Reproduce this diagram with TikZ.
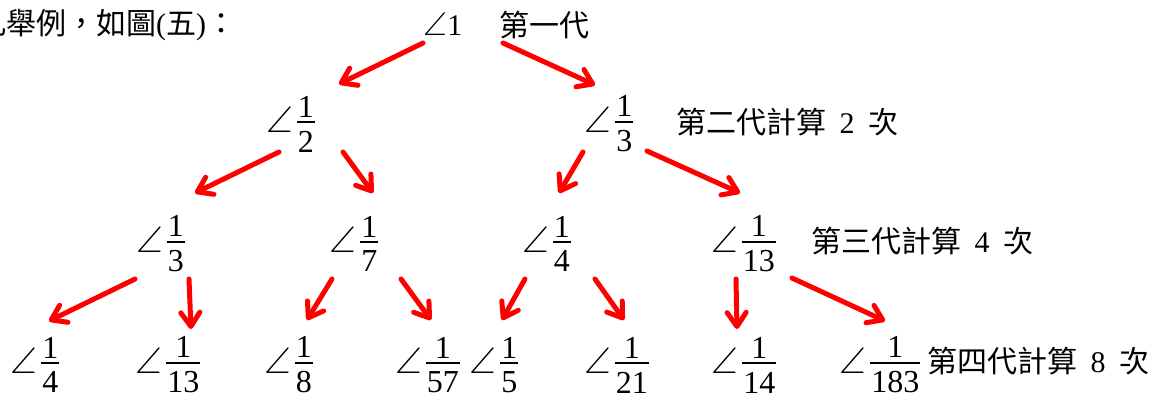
\RequirePackage{fix-cm}
\documentclass[tikz,border=0pt]{standalone}
\usepackage{amsmath,amssymb}
\usepackage{fontspec}
\setmainfont{Liberation Serif}
\newfontfamily\cjk{Noto Sans CJK TC}
\usetikzlibrary{arrows.meta}
% scalable AMS symbol font for a large angle sign
\DeclareFontFamily{U}{msa}{}
\DeclareFontShape{U}{msa}{m}{n}{<-> msam10}{}

% angle sign followed by a stacked fraction
\newcommand\af[2]{{\fontsize{37}{44}\selectfont$\angle$}\kern4pt
  $\vcenter{\offinterlineskip\halign{\hfil\kern1pt##\kern1pt\hfil\cr
    #1\cr\noalign{\kern4pt\hrule height 1.8pt\kern8pt}#2\cr}}$}
% generation label: "第n代計算 k 次"
\newcommand\gen[2]{{\cjk #1}\makebox[1.4em]{#2}{\cjk 次}}

\begin{document}
\begin{tikzpicture}[x=1pt,y=-1pt,
  fr/.style={inner sep=0pt, font=\fontsize{32}{38}\selectfont},
  lbl/.style={anchor=west, inner sep=0pt, font=\fontsize{30}{36}\selectfont},
  arr/.style={draw=red, line width=5pt, line cap=round, line join=round,
    -{Straight Barb[length=14pt,width=19pt,round]}}]
\useasboundingbox (0,0) rectangle (1163,399);

% text line above the tree
\node[lbl] (intro) at (-24,25) {{\cjk 凡舉例，如圖}({\cjk 五}){\cjk ：}};

% root
\node[inner sep=0pt, anchor=base] (n0) at (443,35)
  {{\fontsize{33}{38}\selectfont$\angle$}{\fontsize{30}{36}\selectfont 1}};
\node[lbl] (g1) at (499,25) {\cjk 第一代};

% second generation
\node[fr] (n21) at (290.5,124) {\af{1}{2}};
\node[fr] (n22) at (609,124) {\af{1}{3}};
\node[lbl] (g2) at (676,122) {\gen{第二代計算}{2}};

% third generation
\node[fr] (n31) at (160.5,244) {\af{1}{3}};
\node[fr] (n32) at (354,244) {\af{1}{7}};
\node[fr] (n33) at (546.5,244) {\af{1}{4}};
\node[fr] (n34) at (743.5,244) {\af{1}{13}};
\node[lbl] (g3) at (811,241) {\gen{第三代計算}{4}};

% fourth generation
\node[fr] (n41) at (35,365) {\af{1}{4}};
\node[fr] (n42) at (168,365) {\af{1}{13}};
\node[fr] (n43) at (288.5,365) {\af{1}{8}};
\node[fr] (n44) at (427.5,365) {\af{1}{57}};
\node[fr] (n45) at (494,365) {\af{1}{5}};
\node[fr] (n46) at (616.5,365) {\af{1}{21}};
\node[fr] (n47) at (744,365) {\af{1}{14}};
\node[fr] (n48) at (880,365) {\af{1}{183}};
\node[lbl] (g4) at (927,361) {\gen{第四代計算}{8}};

% arrows from each angle to its two children
\draw[arr] ([shift={(-20,8)}]n0.base) -- ([shift={(48.5,-40)}]n21.center);
\draw[arr] ([shift={(60,8)}]n0.base) -- ([shift={(-14,-39)}]n22.center);

\draw[arr] ([shift={(-11.5,28)}]n21.center) -- ([shift={(34.5,-51)}]n31.center);
\draw[arr] ([shift={(52.5,28)}]n21.center) -- ([shift={(19,-51)}]n32.center);
\draw[arr] ([shift={(-26,28)}]n22.center) -- ([shift={(12.5,-51)}]n33.center);
\draw[arr] ([shift={(38,27)}]n22.center) -- ([shift={(-3.5,-51)}]n34.center);

\draw[arr] ([shift={(-25.5,35)}]n31.center) -- ([shift={(14,-44)}]n41.center);
\draw[arr] ([shift={(28.5,35)}]n31.center) -- ([shift={(23,-36)}]n42.center);
\draw[arr] ([shift={(-22,35)}]n32.center) -- ([shift={(18.5,-45)}]n43.center);
\draw[arr] ([shift={(47,35)}]n32.center) -- ([shift={(3.5,-45)}]n44.center);
\draw[arr] ([shift={(-21.5,35)}]n33.center) -- ([shift={(8,-45)}]n45.center);
\draw[arr] ([shift={(48.5,35)}]n33.center) -- ([shift={(7.5,-45)}]n46.center);
\draw[arr] ([shift={(-7.5,35)}]n34.center) -- ([shift={(-7,-36)}]n47.center);
\draw[arr] ([shift={(48.5,34)}]n34.center) -- ([shift={(5,-44)}]n48.center);
\end{tikzpicture}
\end{document}
